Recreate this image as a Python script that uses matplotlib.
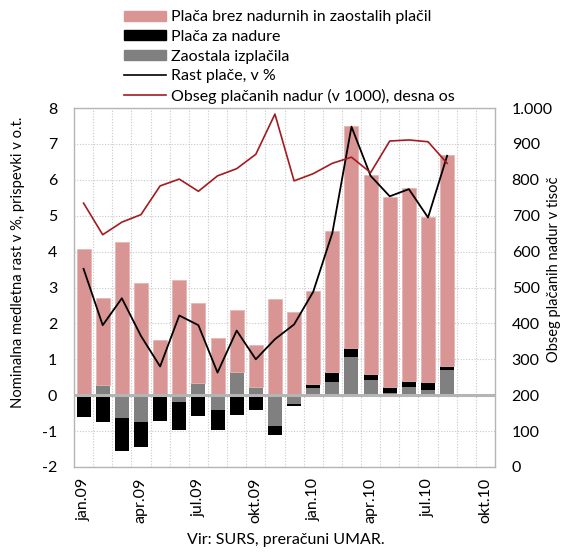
import numpy as np
import matplotlib
matplotlib.use("Agg")
import matplotlib.pyplot as plt
from matplotlib.patches import Patch
from matplotlib.lines import Line2D
from matplotlib.ticker import FuncFormatter, FixedLocator

plt.rcParams['font.family'] = ['Lato', 'DejaVu Sans']
plt.rcParams['axes.unicode_minus'] = False

# monthly data jan.09 - avg.10
months = ['jan.09', 'feb.09', 'mar.09', 'apr.09', 'maj.09', 'jun.09', 'jul.09', 'avg.09',
          'sep.09', 'okt.09', 'nov.09', 'dec.09', 'jan.10', 'feb.10', 'mar.10', 'apr.10',
          'maj.10', 'jun.10', 'jul.10', 'avg.10']
placa_osnovna = [4.07, 2.42, 4.28, 3.12, 1.53, 3.20, 2.21, 1.60, 1.72, 1.17,
                 2.69, 2.32, 2.58, 3.92, 6.18, 5.52, 5.29, 5.36, 4.61, 5.88]
placa_nadure = [-0.60, -0.74, -0.91, -0.67, -0.71, -0.76, -0.59, -0.56, -0.56, -0.40,
                -0.26, -0.07, 0.12, 0.27, 0.26, 0.18, 0.18, 0.18, 0.22, 0.12]
zaostala = [0.00, 0.29, -0.64, -0.76, 0.00, -0.20, 0.35, -0.41, 0.64, 0.23,
            -0.85, -0.24, 0.19, 0.37, 1.06, 0.42, 0.06, 0.22, 0.14, 0.69]
rast_place = [3.52, 1.95, 2.70, 1.65, 0.80, 2.22, 1.95, 0.63, 1.80, 1.00,
              1.56, 1.97, 2.88, 4.52, 7.48, 6.11, 5.54, 5.74, 4.95, 6.67]
obseg_nadur = [735, 647, 682, 703, 783, 802, 768, 811, 831, 871,
               983, 797, 817, 846, 863, 820, 908, 911, 906, 846]
tick_labels = ['jan.09', 'apr.09', 'jul.09', 'okt.09', 'jan.10', 'apr.10', 'jul.10', 'okt.10']

pink = '#d99594'
grey = '#808080'
red = '#a31a1f'

fig = plt.figure(figsize=(5.65, 5.55), dpi=100)
ax = fig.add_axes([74/565, 88/555, 421/565, 359/555])

x = np.arange(len(months))
zao = np.array(zaostala)
nad = np.array(placa_nadure)
osn = np.array(placa_osnovna)

# stack positives from zero upwards, negatives from zero downwards
zao_base = np.zeros(len(x))
nad_base = np.where(nad >= 0, np.clip(zao, 0, None), np.clip(zao, None, 0))
osn_base = np.clip(zao, 0, None) + np.clip(nad, 0, None)

w = 0.73
ax.bar(x, zao, w, bottom=zao_base, color=grey, zorder=3)
ax.bar(x, nad, w, bottom=nad_base, color='black', zorder=3)
ax.bar(x, osn, w, bottom=osn_base, color=pink, edgecolor='#e6b6b5', linewidth=0.6, zorder=3)
ax.plot(x, rast_place, color='black', lw=1.3, zorder=5)
ax.axhline(0, color='#b5b5b5', lw=2.2, zorder=4)

ax.set_xlim(-0.5, 21.5)
ax.set_ylim(-2, 8)
ax.set_yticks(range(-2, 9))
ax.set_xticks(range(0, 22, 3))
ax.set_xticklabels(tick_labels, rotation=90, fontsize=11.5)
ax.xaxis.set_minor_locator(FixedLocator(np.arange(0.5, 21.5, 1)))
ax.grid(axis='y', which='major', color='#c8c8c8', ls=(0, (1, 1.5)), lw=0.8, zorder=0)
ax.grid(axis='x', which='minor', color='#c8c8c8', ls=(0, (1, 1.5)), lw=0.8, zorder=0)
ax.tick_params(axis='both', which='both', length=0, labelsize=11.5)
ax.tick_params(axis='y', pad=12)
ax.tick_params(axis='x', pad=8)
for s in ax.spines.values():
    s.set_color('#b5b5b5')
    s.set_linewidth(1.0)
ax.set_ylabel('Nominalna medletna rast v %, prispevki v o.t.', fontsize=10.6, va='center')
ax.yaxis.set_label_coords(-56/421, 0.571)

ax2 = ax.twinx()
ax2.plot(x, obseg_nadur, color=red, lw=1.2, zorder=6)
ax2.set_ylim(0, 1000)
ax2.set_yticks(range(0, 1001, 100))
ax2.yaxis.set_major_formatter(FuncFormatter(lambda v, p: f'{int(v):,}'.replace(',', '.')))
ax2.tick_params(axis='y', length=0, labelsize=11.5, pad=12)
for s in ax2.spines.values():
    s.set_visible(False)
ax2.set_ylabel('Obseg plačanih nadur v tisoč', fontsize=10.5, va='center')
ax2.yaxis.set_label_coords(1.14, 0.55)

handles = [Patch(color=pink), Patch(color='black'), Patch(color=grey),
           Line2D([], [], color='black', lw=1.2), Line2D([], [], color=red, lw=1.2)]
labels = ['Plača brez nadurnih in zaostalih plačil', 'Plača za nadure', 'Zaostala izplačila',
          'Rast plače, v %', 'Obseg plačanih nadur (v 1000), desna os']
fig.legend(handles, labels, loc='upper left', bbox_to_anchor=(118/565, 1 - 4/555),
           frameon=False, fontsize=11.5, handlelength=2.6, handleheight=0.6,
           labelspacing=0.35, handletextpad=0.3, borderaxespad=0)

fig.text(0.505, 8/555, 'Vir: SURS, preračuni UMAR.', ha='center', va='bottom', fontsize=11.5)

fig.savefig('out.png', dpi=100)
